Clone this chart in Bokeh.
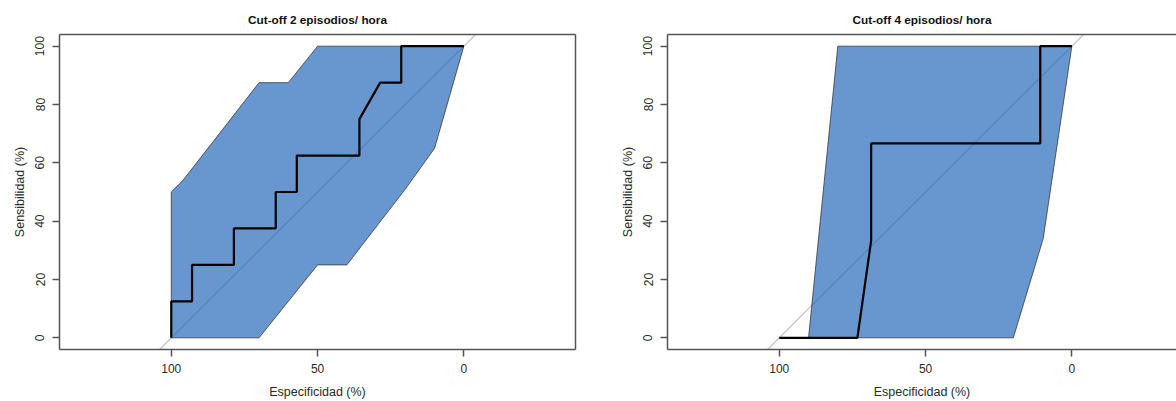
from bokeh.plotting import figure
from bokeh.layouts import row
from bokeh.models import Range1d, FixedTicker, LinearAxis, Slope
from bokeh.embed import file_html
from bokeh.resources import INLINE

# ROC curve and sensitivity CI band, cut-off 2 episodes/hour
roc2_spec = [100, 100, 92.9, 92.9, 78.6, 78.6, 64.3, 64.3, 57.1, 57.1, 35.7, 35.7, 28.6, 21.4, 21.4, 0]
roc2_sens = [0, 12.5, 12.5, 25, 25, 37.5, 37.5, 50, 50, 62.5, 62.5, 75, 87.5, 87.5, 100, 100]
ci2_upper_spec = [100, 96, 70, 60, 50, 0]
ci2_upper_sens = [50, 54, 87.5, 87.5, 100, 100]
ci2_lower_spec = [0, 6, 10, 20, 40, 50, 70, 100]
ci2_lower_sens = [100, 79, 65, 51, 25, 25, 0, 0]

# ROC curve and sensitivity CI band, cut-off 4 episodes/hour
roc4_spec = [100, 73.3, 68.6, 68.6, 10.8, 10.8, 0]
roc4_sens = [0, 0, 33.3, 66.7, 66.7, 100, 100]
ci4_upper_spec = [100, 90, 80, 0]
ci4_upper_sens = [0, 0, 100, 100]
ci4_lower_spec = [0, 9.8, 20, 100]
ci4_lower_sens = [100, 34, 0, 0]

titles = ["Cut-off 2 episodios/ hora", "Cut-off 4 episodios/ hora"]
x_label = "Especificidad (%)"
y_label = "Sensibilidad (%)"
x_ticks = [0, 50, 100]
y_ticks = [0, 20, 40, 60, 80, 100]

FONT = "Liberation Sans"
BOX = "#555555"
TEXT = "#2b2b2b"
HEIGHT = 401
BORDER_LEFT, BORDER_TOP, BORDER_BOTTOM = 59, 34, 51
Y_START, Y_END = -4, 104
PX_PER_UNIT = (HEIGHT - BORDER_TOP - BORDER_BOTTOM) / (Y_END - Y_START)
X_START = 138.2  # reversed axis: specificity decreases to the right


def blank_axis():
    ax = LinearAxis(ticker=FixedTicker(ticks=[]))
    ax.axis_line_color = BOX
    ax.axis_line_width = 1.5
    ax.major_tick_out = 0
    ax.major_tick_in = 0
    ax.minor_tick_out = 0
    ax.minor_tick_in = 0
    ax.major_label_text_font_size = "0px"
    return ax


def roc_panel(title, roc_spec, roc_sens, up_spec, up_sens, lo_spec, lo_sens,
              width, border_right, closed_right):
    frame_w = width - BORDER_LEFT - border_right
    x_end = X_START - frame_w / PX_PER_UNIT
    p = figure(width=width, height=HEIGHT,
               x_range=Range1d(X_START, x_end), y_range=Range1d(Y_START, Y_END),
               output_backend="svg", toolbar_location=None,
               min_border_left=BORDER_LEFT, min_border_right=border_right,
               min_border_top=BORDER_TOP, min_border_bottom=BORDER_BOTTOM,
               background_fill_color="white", border_fill_color="white",
               outline_line_color=None)
    p.grid.visible = False

    # chance diagonal, beneath the band
    p.add_layout(Slope(gradient=-1, y_intercept=100, line_color="#c4c4c4",
                       line_width=1.2, level="underlay"))

    # confidence band of the sensitivity
    p.patch(up_spec + lo_spec, up_sens + lo_sens, fill_color="#1c61b6",
            fill_alpha=0.667, line_color="#222222", line_width=0.8, line_alpha=0.85)

    # empirical ROC curve
    p.line(roc_spec, roc_sens, line_color="black", line_width=2.2)

    for ax, ticks, label in ((p.xaxis[0], x_ticks, x_label), (p.yaxis[0], y_ticks, y_label)):
        ax.ticker = FixedTicker(ticks=ticks)
        ax.axis_label = label
        ax.axis_line_color = BOX
        ax.axis_line_width = 1.5
        ax.major_tick_line_color = BOX
        ax.major_tick_line_width = 1.5
        ax.major_tick_out = 7
        ax.major_tick_in = 0
        ax.minor_tick_out = 0
        ax.minor_tick_in = 0
        ax.major_label_text_font = FONT
        ax.major_label_text_font_size = "12px"
        ax.major_label_text_color = TEXT
        ax.axis_label_text_font = FONT
        ax.axis_label_text_font_size = "12.5px"
        ax.axis_label_text_font_style = "normal"
        ax.axis_label_text_color = TEXT
    p.xaxis[0].major_label_standoff = 7
    p.xaxis[0].axis_label_standoff = 9
    p.yaxis[0].major_label_standoff = 8
    p.yaxis[0].axis_label_standoff = 6
    p.yaxis[0].major_label_orientation = "vertical"

    p.add_layout(blank_axis(), "above")
    if closed_right:
        p.add_layout(blank_axis(), "right")

    p.title.text = title
    p.title.align = "center"
    p.title.text_font = FONT
    p.title.text_font_size = "11.8px"
    p.title.text_font_style = "bold"
    p.title.text_color = "#111111"
    p.title.standoff = 15
    return p


p1 = roc_panel(titles[0], roc2_spec, roc2_sens, ci2_upper_spec, ci2_upper_sens,
               ci2_lower_spec, ci2_lower_sens, width=608, border_right=33, closed_right=True)
p2 = roc_panel(titles[1], roc4_spec, roc4_sens, ci4_upper_spec, ci4_upper_sens,
               ci4_lower_spec, ci4_lower_sens, width=568, border_right=0, closed_right=False)

layout = row(p1, p2)
open("out.html", "w").write(file_html(layout, INLINE))
